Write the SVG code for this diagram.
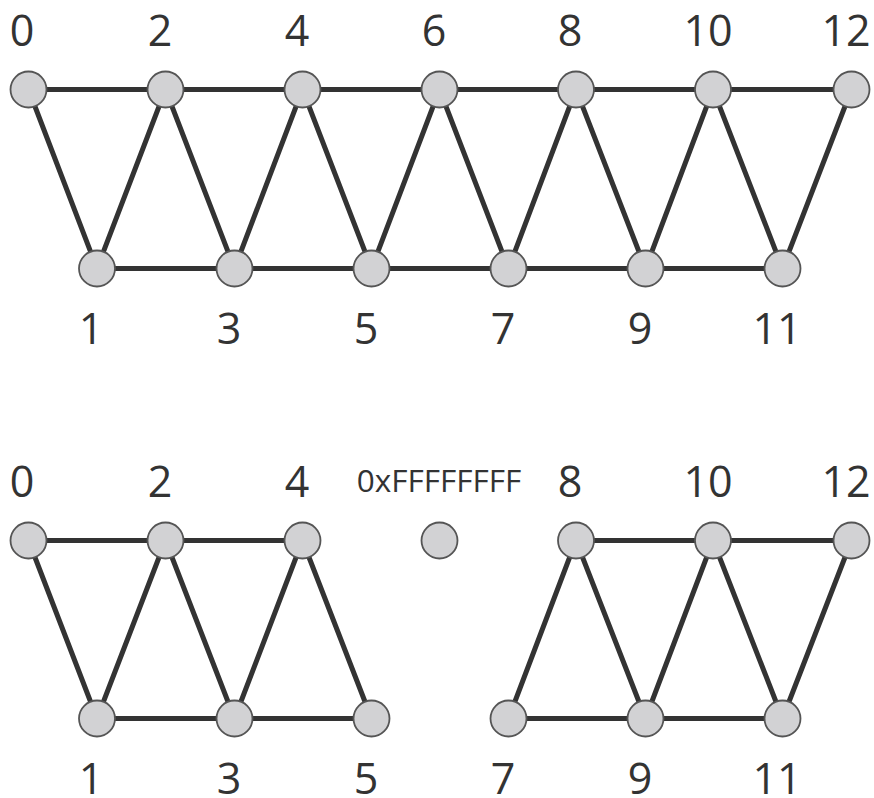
<svg xmlns="http://www.w3.org/2000/svg" width="874" height="798" viewBox="0 0 874 798">
<style>
.e{stroke:#333;stroke-width:5;fill:none;stroke-linecap:round}
.n circle{fill:#d2d2d4;stroke:#555;stroke-width:1.8}
text{font-family:"Open Sans","Liberation Sans",sans-serif;fill:#333;text-anchor:middle}
.l{font-size:43px}
.s{font-size:31.5px}
</style>
<rect width="874" height="798" fill="#fff"/>
<g id="connectors">
<path class="e" d="M28.5,89.5H851.5M97,268.5H783M28.5,89.5L97,268.5L165.5,89.5L234.5,268.5L302.5,89.5L371.5,268.5L439.5,89.5L508.5,268.5L576,89.5L645.5,268.5L713,89.5L782.5,268.5L851.5,89.5"/>
<path class="e" d="M28.5,540.5H302.5M97,718.5H371.5M576,540.5H851.5M508.5,718.5H782.5M28.5,540.5L97,718.5L165.5,540.5L234.5,718.5L302.5,540.5L371.5,718.5M508.5,718.5L576,540.5L645.5,718.5L713,540.5L782.5,718.5L851.5,540.5"/>
</g>
<g id="top">
<g id="t0" class="n"><circle cx="28.5" cy="89.5" r="18"/><text class="l" x="22" y="46">0</text></g>
<g id="t2" class="n"><circle cx="165.5" cy="89.5" r="18"/><text class="l" x="160" y="46">2</text></g>
<g id="t4" class="n"><circle cx="302.5" cy="89.5" r="18"/><text class="l" x="297" y="46">4</text></g>
<g id="t6" class="n"><circle cx="439.5" cy="89.5" r="18"/><text class="l" x="434" y="46">6</text></g>
<g id="t8" class="n"><circle cx="576" cy="89.5" r="18"/><text class="l" x="570" y="46">8</text></g>
<g id="t10" class="n"><circle cx="713" cy="89.5" r="18"/><text class="l" x="708" y="46">10</text></g>
<g id="t12" class="n"><circle cx="851.5" cy="89.5" r="18"/><text class="l" x="846" y="46">12</text></g>
<g id="t1" class="n"><circle cx="97" cy="268.5" r="18"/><text class="l" x="91" y="344">1</text></g>
<g id="t3" class="n"><circle cx="234.5" cy="268.5" r="18"/><text class="l" x="229" y="344">3</text></g>
<g id="t5" class="n"><circle cx="371.5" cy="268.5" r="18"/><text class="l" x="366" y="344">5</text></g>
<g id="t7" class="n"><circle cx="508.5" cy="268.5" r="18"/><text class="l" x="503" y="344">7</text></g>
<g id="t9" class="n"><circle cx="645.5" cy="268.5" r="18"/><text class="l" x="640" y="344">9</text></g>
<g id="t11" class="n"><circle cx="782.5" cy="268.5" r="18"/><text class="l" x="777" y="344">11</text></g>
</g>
<g id="bottom">
<g id="b0" class="n"><circle cx="28.5" cy="540.5" r="18"/><text class="l" x="22" y="497">0</text></g>
<g id="b2" class="n"><circle cx="165.5" cy="540.5" r="18"/><text class="l" x="160" y="497">2</text></g>
<g id="b4" class="n"><circle cx="302.5" cy="540.5" r="18"/><text class="l" x="297" y="497">4</text></g>
<g id="b6" class="n"><circle cx="439.5" cy="540.5" r="18"/><text class="s" x="439" y="492">0xFFFFFFFF</text></g>
<g id="b8" class="n"><circle cx="576" cy="540.5" r="18"/><text class="l" x="570" y="497">8</text></g>
<g id="b10" class="n"><circle cx="713" cy="540.5" r="18"/><text class="l" x="708" y="497">10</text></g>
<g id="b12" class="n"><circle cx="851.5" cy="540.5" r="18"/><text class="l" x="846" y="497">12</text></g>
<g id="b1" class="n"><circle cx="97" cy="718.5" r="18"/><text class="l" x="91" y="794">1</text></g>
<g id="b3" class="n"><circle cx="234.5" cy="718.5" r="18"/><text class="l" x="229" y="794">3</text></g>
<g id="b5" class="n"><circle cx="371.5" cy="718.5" r="18"/><text class="l" x="366" y="794">5</text></g>
<g id="b7" class="n"><circle cx="508.5" cy="718.5" r="18"/><text class="l" x="503" y="794">7</text></g>
<g id="b9" class="n"><circle cx="645.5" cy="718.5" r="18"/><text class="l" x="640" y="794">9</text></g>
<g id="b11" class="n"><circle cx="782.5" cy="718.5" r="18"/><text class="l" x="777" y="794">11</text></g>
</g>
</svg>
